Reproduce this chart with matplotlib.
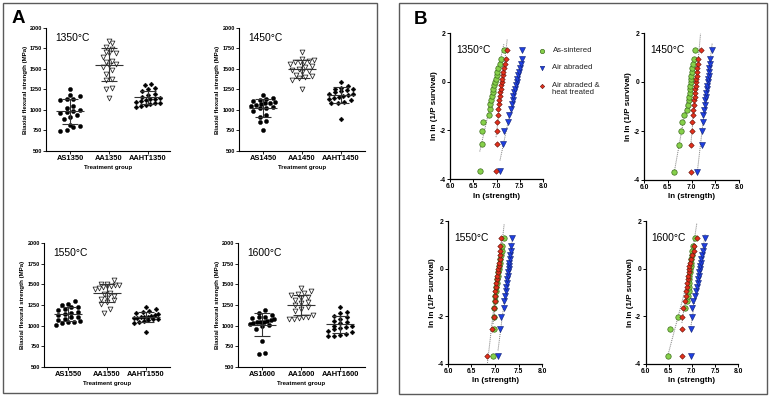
import numpy as np
import matplotlib
matplotlib.use('Agg')
import matplotlib.pyplot as plt
from matplotlib.patches import Rectangle
from matplotlib.lines import Line2D

plt.rcParams['font.family'] = ['Liberation Sans', 'DejaVu Sans']

# ---------------- data ----------------
temps = ['1350', '1450', '1550', '1600']
group_prefix = ['AS', 'AA', 'AAHT']
series_names = ['As-sintered', 'Air abraded', 'Air abraded &\nheat treated']

# Panel A: biaxial flexural strength (MPa)
AS1350 = [745, 760, 790, 800, 820, 890, 920, 940, 960, 980, 990, 1000, 1030, 1050, 1120, 1130, 1135, 1170, 1185, 1262]
AA1350 = [1149, 1250, 1270, 1360, 1376, 1445, 1485, 1526, 1546, 1560, 1586, 1600, 1647, 1690, 1700, 1710, 1749, 1769, 1818, 1842]
AAHT1350 = [1040, 1050, 1060, 1070, 1080, 1090, 1100, 1110, 1120, 1130, 1140, 1150, 1160, 1180, 1200, 1230, 1250, 1270, 1300, 1320]
AS1450 = [760, 850, 870, 910, 940, 990, 1020, 1030, 1040, 1050, 1060, 1070, 1080, 1090, 1100, 1110, 1120, 1140, 1150, 1180]
AA1450 = [1250, 1370, 1385, 1400, 1410, 1430, 1460, 1470, 1490, 1500, 1520, 1540, 1560, 1580, 1585, 1590, 1600, 1610, 1620, 1710]
AAHT1450 = [890, 1080, 1090, 1100, 1120, 1140, 1150, 1160, 1170, 1180, 1190, 1200, 1220, 1230, 1240, 1250, 1260, 1270, 1290, 1340]
AS1550 = [1010, 1030, 1040, 1050, 1060, 1070, 1080, 1100, 1110, 1130, 1140, 1150, 1170, 1190, 1200, 1220, 1230, 1250, 1260, 1300]
AA1550 = [1150, 1200, 1260, 1290, 1310, 1320, 1340, 1360, 1380, 1400, 1440, 1460, 1470, 1475, 1480, 1490, 1495, 1500, 1510, 1550]
AAHT1550 = [925, 1030, 1040, 1060, 1070, 1080, 1085, 1090, 1095, 1100, 1105, 1110, 1120, 1130, 1140, 1150, 1170, 1180, 1200, 1220]
AS1600 = [660, 675, 815, 960, 990, 1010, 1025, 1030, 1040, 1045, 1050, 1060, 1070, 1080, 1090, 1100, 1110, 1130, 1150, 1190]
AA1600 = [1075, 1080, 1090, 1100, 1110, 1130, 1180, 1200, 1230, 1250, 1270, 1290, 1310, 1330, 1350, 1370, 1380, 1400, 1420, 1450]
AAHT1600 = [875, 880, 890, 900, 920, 940, 960, 970, 980, 990, 1000, 1030, 1050, 1060, 1080, 1100, 1120, 1150, 1170, 1230]

# Panel B: Weibull plot, ln(strength) (sorted) and ln ln (1/P survival)
weibull_y = [-3.676, -2.552, -2.013, -1.648, -1.367, -1.135, -0.934, -0.755, -0.592, -0.440,
             -0.295, -0.156, -0.019, 0.117, 0.255, 0.400, 0.556, 0.732, 0.952, 1.305]
lnAS1350 = [6.64, 6.68, 6.69, 6.72, 6.84, 6.86, 6.87, 6.89, 6.90, 6.92, 6.93, 6.95, 6.96, 6.99, 7.00, 7.02, 7.04, 7.07, 7.09, 7.16]
lnAA1350 = [7.075, 7.145, 7.17, 7.24, 7.275, 7.305, 7.325, 7.35, 7.36, 7.375, 7.40, 7.42, 7.435, 7.45, 7.47, 7.485, 7.505, 7.53, 7.54, 7.55]
lnAAHT1350 = [6.99, 7.00, 7.02, 7.02, 7.03, 7.04, 7.05, 7.06, 7.07, 7.075, 7.09, 7.10, 7.11, 7.125, 7.13, 7.15, 7.17, 7.19, 7.20, 7.23]
lnAS1450 = [6.63, 6.735, 6.77, 6.81, 6.84, 6.90, 6.925, 6.94, 6.945, 6.96, 6.96, 6.975, 6.98, 6.99, 6.995, 7.00, 7.01, 7.03, 7.045, 7.07]
lnAA1450 = [7.117, 7.22, 7.23, 7.245, 7.25, 7.26, 7.28, 7.285, 7.30, 7.315, 7.33, 7.335, 7.34, 7.35, 7.36, 7.365, 7.365, 7.38, 7.39, 7.435]
lnAAHT1450 = [6.983, 6.998, 7.01, 7.02, 7.03, 7.04, 7.045, 7.05, 7.07, 7.075, 7.08, 7.09, 7.095, 7.10, 7.11, 7.115, 7.125, 7.14, 7.145, 7.19]
lnAS1550 = [6.957, 6.98, 6.98, 6.98, 6.994, 7.01, 7.015, 7.03, 7.036, 7.04, 7.06, 7.064, 7.08, 7.085, 7.10, 7.11, 7.125, 7.14, 7.155, 7.195]
lnAA1550 = [7.064, 7.10, 7.136, 7.185, 7.20, 7.22, 7.228, 7.24, 7.255, 7.264, 7.27, 7.285, 7.29, 7.30, 7.306, 7.31, 7.32, 7.334, 7.334, 7.36]
lnAAHT1550 = [6.84, 6.945, 6.97, 6.98, 6.99, 6.99, 7.01, 7.015, 7.03, 7.04, 7.05, 7.06, 7.07, 7.08, 7.085, 7.10, 7.10, 7.115, 7.115, 7.135]
lnAS1600 = [6.48, 6.52, 6.70, 6.86, 6.895, 6.91, 6.93, 6.93, 6.94, 6.945, 6.95, 6.96, 6.97, 6.975, 6.98, 6.99, 6.995, 7.01, 7.025, 7.075]
lnAA1600 = [6.98, 6.98, 7.0, 7.0, 7.03, 7.075, 7.09, 7.11, 7.125, 7.135, 7.15, 7.16, 7.17, 7.185, 7.2, 7.205, 7.22, 7.245, 7.255, 7.29]
lnAAHT1600 = [6.787, 6.787, 6.787, 6.82, 6.845, 6.875, 6.88, 6.895, 6.895, 6.91, 6.917, 6.93, 6.946, 6.95, 6.967, 6.98, 7.0, 7.04, 7.055, 7.11]

strength = {
    '1350': [AS1350, AA1350, AAHT1350],
    '1450': [AS1450, AA1450, AAHT1450],
    '1550': [AS1550, AA1550, AAHT1550],
    '1600': [AS1600, AA1600, AAHT1600],
}
weibull_x = {
    '1350': [lnAS1350, lnAA1350, lnAAHT1350],
    '1450': [lnAS1450, lnAA1450, lnAAHT1450],
    '1550': [lnAS1550, lnAA1550, lnAAHT1550],
    '1600': [lnAS1600, lnAA1600, lnAAHT1600],
}

# ---------------- layout ----------------
W, H = 772, 398
fig = plt.figure(figsize=(W / 100, H / 100), dpi=100)


def px_axes(x0, x1, ytop, ybot):
    return fig.add_axes([x0 / W, 1 - ybot / H, (x1 - x0) / W, (ybot - ytop) / H])


# panel boxes
fig.add_artist(Rectangle((3 / W, 1 - 393 / H), 374 / W, 390 / H, transform=fig.transFigure,
                         fill=False, ec='#5a5a5a', lw=1.0))
fig.add_artist(Rectangle((399 / W, 1 - 394 / H), 368 / W, 391 / H, transform=fig.transFigure,
                         fill=False, ec='#5a5a5a', lw=1.0))
fig.text(12 / W, 1 - 18.5 / H, 'A', fontsize=13.5, fontweight='bold', va='center', ha='left')
fig.text(414 / W, 1 - 19 / H, 'B', fontsize=13.5, fontweight='bold', va='center', ha='left')

A_pos = {'1350': (46, 170, 28, 151), '1450': (239, 365, 28, 151),
         '1550': (44, 170, 243, 367), '1600': (238, 365, 243, 367)}
B_pos = {'1350': (450, 543, 33, 179), '1450': (644, 739, 33, 180),
         '1550': (448, 542, 221, 364), '1600': (645.5, 738, 221, 364)}

cat_off = 24.0   # px from axis to first category
cat_step = 39.0  # px between categories
bin_h = 4.6      # px: vertical row height for the column scatter
row_gap = 6.5    # px: horizontal spacing inside a row
row_max = 24.0   # px: maximum row width


def row_offsets(vals, px_per_val):
    """GraphPad-like column scatter: points in the same row are spread sideways."""
    v = np.asarray(vals, float)
    order = np.argsort(v)
    offs = np.zeros(len(v))
    rows = []
    cur = [order[0]]
    start = v[order[0]] * px_per_val
    for i in order[1:]:
        if v[i] * px_per_val - start < bin_h:
            cur.append(i)
        else:
            rows.append(cur)
            cur = [i]
            start = v[i] * px_per_val
    rows.append(cur)
    for k, r in enumerate(rows):
        n = len(r)
        gap = row_gap if n < 2 else min(row_gap, row_max / (n - 1))
        shift = 0.0
        if n == 1 and k % 2 == 1:
            shift = 0.0
        for j, i in enumerate(r):
            offs[i] = (j - (n - 1) / 2.0) * gap + shift
    return offs


a_markers = [dict(marker='o', s=9.0, facecolor='black', edgecolor='black', linewidths=0.3),
             dict(marker='v', s=12, facecolor='white', edgecolor='#222222', linewidths=0.55),
             dict(marker='D', s=6.0, facecolor='black', edgecolor='black', linewidths=0.3)]

for t in temps:
    x0, x1, yt, yb = A_pos[t]
    ax = px_axes(x0, x1, yt, yb)
    ax.set_ylim(500, 2000)
    ax.set_xlim(-cat_off / cat_step, (x1 - x0 - cat_off) / cat_step)
    px_per_val = (yb - yt) / 1500.0
    for g, vals in enumerate(strength[t]):
        v = np.asarray(vals, float)
        offs = row_offsets(v, px_per_val) / cat_step
        ax.scatter(g + offs, v, zorder=2, clip_on=False, **a_markers[g])
        m, sd = v.mean(), v.std(ddof=1)
        ax.hlines(m, g - 0.36, g + 0.36, color='#333333', lw=0.8, zorder=3)
        ax.hlines([m - sd, m + sd], g - 0.2, g + 0.2, color='#333333', lw=0.8, zorder=3)
        ax.vlines(g, m - sd, m + sd, color='#333333', lw=0.8, zorder=3)
    ax.set_xticks([0, 1, 2])
    ax.set_xticklabels([p + t for p in group_prefix])
    ax.set_yticks([500, 750, 1000, 1250, 1500, 1750, 2000])
    for s in ['top', 'right']:
        ax.spines[s].set_visible(False)
    for s in ['left', 'bottom']:
        ax.spines[s].set_linewidth(0.8)
    ax.tick_params(axis='y', labelsize=4.0, length=2, width=0.6, pad=1)
    ax.tick_params(axis='x', labelsize=5.4, length=2, width=0.6, pad=1.2)
    for lbl in ax.get_xticklabels() + ax.get_yticklabels():
        lbl.set_fontweight('bold')
    hpx = yb - yt
    wpx = x1 - x0
    ax.text(0.5, -(168 - 151) / hpx, 'Treatment group', transform=ax.transAxes,
            ha='center', va='center', fontsize=4.4, fontweight='bold')
    ax.text(-21 / wpx, 0.5, 'Biaxial flexural strength (MPa)', transform=ax.transAxes,
            rotation=90, ha='center', va='center', fontsize=4.4, fontweight='bold')
    ax.text(9 / wpx, 1 - 10 / hpx, t + '°C', transform=ax.transAxes,
            ha='left', va='center', fontsize=7.4)

b_style = [dict(marker='o', color='#86d04a', mec='#3f6e1f', ms=3.9, mew=0.5),
           dict(marker='v', color='#1f3fe0', mec='#0d1f70', ms=4.0, mew=0.4),
           dict(marker='D', color='#e3301c', mec='#5a1008', ms=2.8, mew=0.4)]
draw_order = [0, 1, 2]

for t in temps:
    x0, x1, yt, yb = B_pos[t]
    ax = px_axes(x0, x1, yt, yb)
    ax.set_xlim(6, 8)
    ax.set_ylim(-4, 2)
    yv = np.asarray(weibull_y)
    for g in draw_order:
        xv = np.asarray(weibull_x[t][g])
        k, b = np.polyfit(xv, yv, 1)
        xx = np.array([xv.min(), xv.max()])
        ax.plot(xx, k * xx + b, ls=(0, (1, 1)), color='#7a7a7a', lw=0.7, zorder=1)
    for g in draw_order:
        xv = np.asarray(weibull_x[t][g])
        ax.plot(xv, yv, ls='none', zorder=3 + g, clip_on=False, **b_style[g])
    ax.set_xticks([6.0, 6.5, 7.0, 7.5, 8.0])
    ax.set_xticklabels(['6.0', '6.5', '7.0', '7.5', '8.0'])
    ax.set_yticks([-4, -2, 0, 2])
    ax.set_yticklabels(['-4', '-2', '0', '2'])
    for s in ['top', 'right']:
        ax.spines[s].set_visible(False)
    for s in ['left', 'bottom']:
        ax.spines[s].set_linewidth(0.9)
    ax.tick_params(axis='both', labelsize=4.9, length=2.2, width=0.7, pad=1)
    for lbl in ax.get_xticklabels() + ax.get_yticklabels():
        lbl.set_fontweight('bold')
    hpx = yb - yt
    wpx = x1 - x0
    ax.text(0.5, -17 / hpx, 'ln (strength)', transform=ax.transAxes,
            ha='center', va='center', fontsize=5.8, fontweight='bold')
    ax.text(-15 / wpx, 0.5, 'ln ln (1/P survival)', transform=ax.transAxes,
            rotation=90, ha='center', va='center', fontsize=5.8, fontweight='bold')
    ax.text(6 / wpx, 1 - 17 / hpx, t + '°C', transform=ax.transAxes,
            ha='left', va='center', fontsize=7.4)

# legend (figure coordinates)
leg_y = [50.7, 68.3, 86.0]
for g in range(3):
    st = dict(b_style[g])
    st['ms'] = st['ms'] * 0.8
    fig.add_artist(Line2D([542.3 / W], [1 - leg_y[g] / H], transform=fig.transFigure,
                          ls='none', **st))
    fig.text(552.5 / W, 1 - (leg_y[g] - 4.2) / H, series_names[g], fontsize=5.6,
             ha='left', va='top', color='#222222', linespacing=1.05)

fig.savefig('out.png', dpi=100)
